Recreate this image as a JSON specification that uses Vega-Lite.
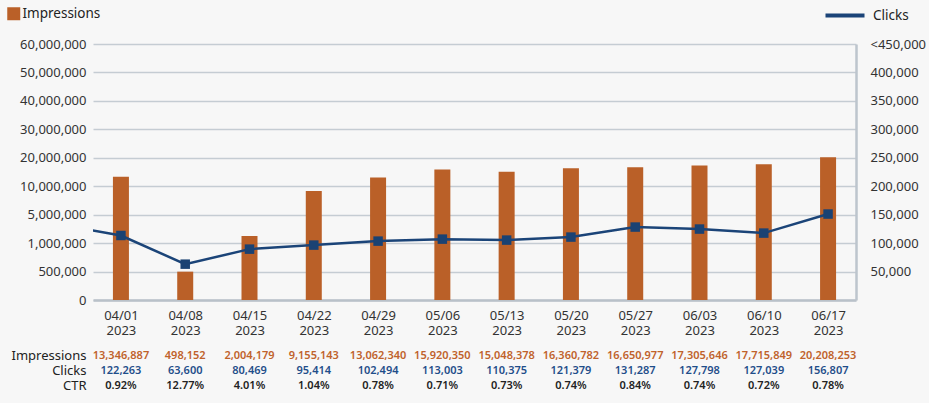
{
  "$schema": "https://vega.github.io/schema/vega-lite/v6.json",
  "background": "#f7f7f7",
  "padding": {"left": 7, "top": 7, "right": 9, "bottom": 20},
  "config": {"font": "Noto Sans", "view": {"stroke": null}, "concat": {"spacing": 11}},
  "datasets": {
    "weekly": [
      {"date": "2023-04-01T00:00:00Z", "impressions": 13346887, "clicks": 122263, "ctr": 0.0092},
      {"date": "2023-04-08T00:00:00Z", "impressions": 498152, "clicks": 63600, "ctr": 0.1277},
      {"date": "2023-04-15T00:00:00Z", "impressions": 2004179, "clicks": 80469, "ctr": 0.0401},
      {"date": "2023-04-22T00:00:00Z", "impressions": 9155143, "clicks": 95414, "ctr": 0.0104},
      {"date": "2023-04-29T00:00:00Z", "impressions": 13062340, "clicks": 102494, "ctr": 0.0078},
      {"date": "2023-05-06T00:00:00Z", "impressions": 15920350, "clicks": 113003, "ctr": 0.0071},
      {"date": "2023-05-13T00:00:00Z", "impressions": 15048378, "clicks": 110375, "ctr": 0.0073},
      {"date": "2023-05-20T00:00:00Z", "impressions": 16360782, "clicks": 121379, "ctr": 0.0074},
      {"date": "2023-05-27T00:00:00Z", "impressions": 16650977, "clicks": 131287, "ctr": 0.0084},
      {"date": "2023-06-03T00:00:00Z", "impressions": 17305646, "clicks": 127798, "ctr": 0.0074},
      {"date": "2023-06-10T00:00:00Z", "impressions": 17715849, "clicks": 127039, "ctr": 0.0072},
      {"date": "2023-06-17T00:00:00Z", "impressions": 20208253, "clicks": 156807, "ctr": 0.0078}
    ],
    "clicksLine": [
      {"date": "2023-03-25T00:00:00Z", "clicks": 133200},
      {"date": "2023-04-01T00:00:00Z", "clicks": 113400},
      {"date": "2023-04-08T00:00:00Z", "clicks": 63000},
      {"date": "2023-04-15T00:00:00Z", "clicks": 89400},
      {"date": "2023-04-22T00:00:00Z", "clicks": 96500},
      {"date": "2023-04-29T00:00:00Z", "clicks": 103500},
      {"date": "2023-05-06T00:00:00Z", "clicks": 107000},
      {"date": "2023-05-13T00:00:00Z", "clicks": 105300},
      {"date": "2023-05-20T00:00:00Z", "clicks": 110600},
      {"date": "2023-05-27T00:00:00Z", "clicks": 128200},
      {"date": "2023-06-03T00:00:00Z", "clicks": 124700},
      {"date": "2023-06-10T00:00:00Z", "clicks": 117600},
      {"date": "2023-06-17T00:00:00Z", "clicks": 151100}
    ]
  },
  "vconcat": [
    {
      "width": 763,
      "height": 256,
      "encoding": {
        "x": {
          "field": "date", "type": "temporal",
          "scale": {"type": "utc", "nice": false, "padding": 0, "domain": [
            {"year": 2023, "month": 3, "date": 28, "hours": 23, "utc": true},
            {"year": 2023, "month": 6, "date": 20, "hours": 1, "utc": true}
          ]},
          "axis": {
            "title": null,
            "values": [
              {"year": 2023, "month": 4, "date": 1, "utc": true},
              {"year": 2023, "month": 4, "date": 8, "utc": true},
              {"year": 2023, "month": 4, "date": 15, "utc": true},
              {"year": 2023, "month": 4, "date": 22, "utc": true},
              {"year": 2023, "month": 4, "date": 29, "utc": true},
              {"year": 2023, "month": 5, "date": 6, "utc": true},
              {"year": 2023, "month": 5, "date": 13, "utc": true},
              {"year": 2023, "month": 5, "date": 20, "utc": true},
              {"year": 2023, "month": 5, "date": 27, "utc": true},
              {"year": 2023, "month": 6, "date": 3, "utc": true},
              {"year": 2023, "month": 6, "date": 10, "utc": true},
              {"year": 2023, "month": 6, "date": 17, "utc": true}
            ],
            "labelExpr": "[utcFormat(datum.value, '%m/%d'), utcFormat(datum.value, '%Y')]",
            "ticks": false,
            "grid": false,
            "labelPadding": 9,
            "labelFontSize": 13,
            "labelColor": "#333333",
            "labelLineHeight": 15,
            "labelFlush": false,
            "labelOverlap": false,
            "domainColor": "#b9c1c9",
            "domainWidth": 2.5
          }
        }
      },
      "layer": [
        {
          "data": {"name": "weekly"},
          "mark": {"type": "bar", "width": 16},
          "encoding": {
            "y": {
              "field": "impressions", "type": "quantitative",
              "scale": {
                "domain": [0, 500000, 1000000, 5000000, 10000000, 20000000, 30000000, 40000000, 50000000, 60000000],
                "range": [256, 227.556, 199.111, 170.667, 142.222, 113.778, 85.333, 56.889, 28.444, 0],
                "nice": false, "zero": false
              },
              "axis": {
                "title": null,
                "values": [0, 500000, 1000000, 5000000, 10000000, 20000000, 30000000, 40000000, 50000000, 60000000],
                "labelExpr": "format(datum.value, ',')",
                "labelOverlap": false,
                "grid": true,
                "gridColor": "#c5ccd3",
                "gridWidth": 1.5,
                "domain": false,
                "ticks": false,
                "labelPadding": 7,
                "labelFontSize": 13,
                "labelColor": "#333333"
              }
            },
            "fill": {
              "datum": "Impressions", "type": "nominal",
              "scale": {"range": ["#ba6028"]},
              "legend": {
                "orient": "none", "legendX": -86, "legendY": -37,
                "title": null, "padding": 0,
                "symbolType": "square", "symbolSize": 169, "symbolStrokeWidth": 0,
                "labelFontSize": 13.5, "labelColor": "#222222", "labelOffset": 2
              }
            }
          }
        },
        {
          "data": {"name": "clicksLine"},
          "encoding": {
            "y": {
              "field": "clicks", "type": "quantitative",
              "scale": {"domain": [0, 450000], "nice": false},
              "axis": {
                "orient": "right",
                "title": null,
                "values": [50000, 100000, 150000, 200000, 250000, 300000, 350000, 400000, 450000],
                "labelExpr": "datum.value == 450000 ? '<450,000' : format(datum.value, ',')",
                "labelOverlap": false,
                "grid": false,
                "domain": true,
                "domainColor": "#bdc5cd",
                "domainWidth": 2.5,
                "ticks": false,
                "labelPadding": 14,
                "labelFontSize": 13,
                "labelColor": "#333333"
              }
            }
          },
          "layer": [
            {
              "mark": {"type": "line", "strokeWidth": 2.5, "clip": true},
              "encoding": {
                "stroke": {
                  "datum": "Clicks", "type": "nominal",
                  "scale": {"range": ["#1b4478"]},
                  "legend": {
                    "orient": "none", "legendX": 743.5, "legendY": -37,
                    "title": null, "padding": 0,
                    "symbolType": "M-3,0H3", "symbolSize": 169, "symbolStrokeWidth": 4,
                    "labelFontSize": 13.5, "labelColor": "#222222", "labelOffset": 19.5
                  }
                }
              }
            },
            {
              "mark": {"type": "square", "size": 90, "color": "#1a4273", "opacity": 1, "clip": true}
            }
          ]
        }
      ],
      "resolve": {"scale": {"y": "independent", "fill": "independent", "stroke": "independent"}}
    },
    {
      "width": 763,
      "height": 45,
      "data": {"name": "weekly"},
      "encoding": {
        "x": {
          "field": "date", "type": "temporal",
          "scale": {"type": "utc", "nice": false, "padding": 0, "domain": [
            {"year": 2023, "month": 3, "date": 28, "hours": 23, "utc": true},
            {"year": 2023, "month": 6, "date": 20, "hours": 1, "utc": true}
          ]},
          "axis": null
        }
      },
      "layer": [
        {
          "mark": {"type": "text", "fontSize": 11, "fontWeight": 600, "color": "#c0622b"},
          "encoding": {
            "text": {"field": "impressions", "type": "quantitative", "format": ","},
            "y": {
              "datum": "Impressions", "type": "nominal",
              "scale": {"domain": ["Impressions", "Clicks", "CTR"]},
              "axis": {
                "title": null, "domain": false, "ticks": false,
                "labelPadding": 7, "labelFontSize": 13, "labelColor": "#222222"
              }
            }
          }
        },
        {
          "mark": {"type": "text", "fontSize": 11, "fontWeight": 600, "color": "#1f4e8a"},
          "encoding": {
            "text": {"field": "clicks", "type": "quantitative", "format": ","},
            "y": {"datum": "Clicks", "type": "nominal"}
          }
        },
        {
          "mark": {"type": "text", "fontSize": 11, "fontWeight": 600, "color": "#222222"},
          "encoding": {
            "text": {"field": "ctr", "type": "quantitative", "format": ".2%"},
            "y": {"datum": "CTR", "type": "nominal"}
          }
        }
      ]
    }
  ]
}
